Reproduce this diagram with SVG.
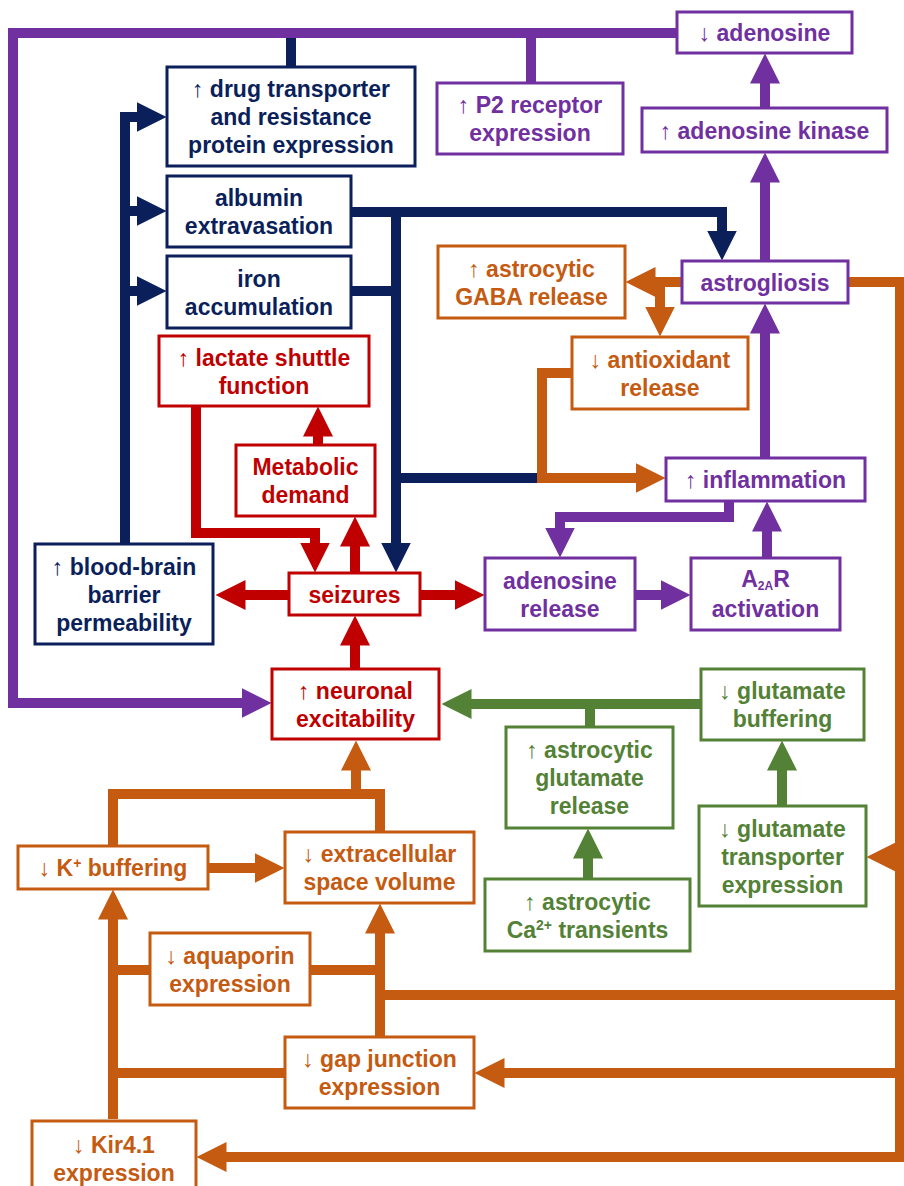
<svg xmlns="http://www.w3.org/2000/svg" width="904" height="1186" viewBox="0 0 904 1186">
<style>
.bx{fill:#fff;stroke-width:3}
.t{font-family:"Liberation Sans",Arial,sans-serif;font-weight:bold;font-size:23px;text-anchor:middle}
.ar{font-weight:normal}
.c{fill:none;stroke-width:10;stroke-linejoin:miter;stroke-linecap:butt}
.navy{stroke:#0b1f5b}.purple{stroke:#7030a0}.red{stroke:#c00000}.orange{stroke:#c55a11}.green{stroke:#538135}
.tn{fill:#0b1f5b}.tp{fill:#7030a0}.tr{fill:#c00000}.to{fill:#c55a11}.tg{fill:#538135}
.sup{font-size:14px}
.sub{font-size:12px}
</style>
<defs>
<marker id="an" markerWidth="30" markerHeight="30" refX="0.5" refY="15" orient="auto" markerUnits="userSpaceOnUse" viewBox="0 0 30 30"><path d="M0,0 L30,15 L0,30z" fill="#0b1f5b"/></marker>
<marker id="ap" markerWidth="30" markerHeight="30" refX="0.5" refY="15" orient="auto" markerUnits="userSpaceOnUse" viewBox="0 0 30 30"><path d="M0,0 L30,15 L0,30z" fill="#7030a0"/></marker>
<marker id="ar" markerWidth="30" markerHeight="30" refX="0.5" refY="15" orient="auto" markerUnits="userSpaceOnUse" viewBox="0 0 30 30"><path d="M0,0 L30,15 L0,30z" fill="#c00000"/></marker>
<marker id="ao" markerWidth="30" markerHeight="30" refX="0.5" refY="15" orient="auto" markerUnits="userSpaceOnUse" viewBox="0 0 30 30"><path d="M0,0 L30,15 L0,30z" fill="#c55a11"/></marker>
<marker id="ag" markerWidth="30" markerHeight="30" refX="0.5" refY="15" orient="auto" markerUnits="userSpaceOnUse" viewBox="0 0 30 30"><path d="M0,0 L30,15 L0,30z" fill="#538135"/></marker>
</defs>
<rect width="904" height="1186" fill="#fff"/>
<g id="connectors">
<!-- navy -->
<path class="c navy" d="M125,544 V117 H137" marker-end="url(#an)"/>
<path class="c navy" d="M125,211 H137" marker-end="url(#an)"/>
<path class="c navy" d="M125,291 H137" marker-end="url(#an)"/>
<path class="c navy" d="M291,67 V36"/>
<path class="c navy" d="M351,212 H722 V231" marker-end="url(#an)"/>
<path class="c navy" d="M396,207 V543" marker-end="url(#an)"/>
<path class="c navy" d="M351,291 H396"/>
<path class="c navy" d="M396,478 H542"/>
<!-- purple -->
<path class="c purple" d="M677,33 H13 V703 H242" marker-end="url(#ap)"/>
<path class="c purple" d="M531,33 V83"/>
<path class="c purple" d="M729,501 V517 H560 V528" marker-end="url(#ap)"/>
<path class="c purple" d="M635,595 H661" marker-end="url(#ap)"/>
<path class="c purple" d="M767,558 V531" marker-end="url(#ap)"/>
<path class="c purple" d="M765,458 V333" marker-end="url(#ap)"/>
<path class="c purple" d="M765,261 V182" marker-end="url(#ap)"/>
<path class="c purple" d="M765,108 V83" marker-end="url(#ap)"/>
<!-- orange -->
<path class="c orange" d="M572,373 H542 V478 H636" marker-end="url(#ao)"/>
<path class="c orange" d="M682,282 H655" marker-end="url(#ao)"/>
<path class="c orange" d="M660,282 V307" marker-end="url(#ao)"/>
<path class="c orange" d="M848,282 H900 V1157 H226" marker-end="url(#ao)"/>
<path class="c orange" d="M900,857 H896" marker-end="url(#ao)"/>
<path class="c orange" d="M900,995 H380"/>
<path class="c orange" d="M900,1073 H504" marker-end="url(#ao)"/>
<path class="c orange" d="M380,1037 V933" marker-end="url(#ao)"/>
<path class="c orange" d="M113,970 H150"/>
<path class="c orange" d="M310,970 H380"/>
<path class="c orange" d="M113,1119 V919" marker-end="url(#ao)"/>
<path class="c orange" d="M113,1073 H285"/>
<path class="c orange" d="M113,846 V794 H380 V832"/>
<path class="c orange" d="M356,794 V770" marker-end="url(#ao)"/>
<path class="c orange" d="M208,868 H255" marker-end="url(#ao)"/>
<!-- green -->
<path class="c green" d="M701,704 H471" marker-end="url(#ag)"/>
<path class="c green" d="M590,704 V727"/>
<path class="c green" d="M588,879 V858" marker-end="url(#ag)"/>
<path class="c green" d="M782,806 V770" marker-end="url(#ag)"/>
<!-- red -->
<path class="c red" d="M289,595 H245" marker-end="url(#ar)"/>
<path class="c red" d="M420,595 H455" marker-end="url(#ar)"/>
<path class="c red" d="M355,573 V546" marker-end="url(#ar)"/>
<path class="c red" d="M196,406 V533 H315 V543" marker-end="url(#ar)"/>
<path class="c red" d="M318,445 V436" marker-end="url(#ar)"/>
<path class="c red" d="M355,669 V645" marker-end="url(#ar)"/>
</g>

<g id="drug-transporter"><rect class="bx navy" x="167" y="67" width="248" height="99"/><text class="t tn" x="291" y="97"><tspan class="ar">↑</tspan> drug transporter<tspan x="291" dy="28">and resistance</tspan><tspan x="291" dy="28">protein expression</tspan></text></g>
<g id="albumin"><rect class="bx navy" x="167" y="176" width="184" height="71"/><text class="t tn" x="259" y="206">albumin<tspan x="259" dy="28">extravasation</tspan></text></g>
<g id="iron"><rect class="bx navy" x="167" y="256" width="184" height="72"/><text class="t tn" x="259" y="286.5">iron<tspan x="259" dy="28">accumulation</tspan></text></g>
<g id="bbb"><rect class="bx navy" x="35" y="544" width="178" height="100"/><text class="t tn" x="124" y="574.5"><tspan class="ar">↑</tspan> blood-brain<tspan x="124" dy="28">barrier</tspan><tspan x="124" dy="28">permeability</tspan></text></g>

<g id="lactate"><rect class="bx red" x="159" y="336" width="210" height="70"/><text class="t tr" x="264" y="365.5"><tspan class="ar">↑</tspan> lactate shuttle<tspan x="264" dy="28">function</tspan></text></g>
<g id="metabolic"><rect class="bx red" x="236" y="445" width="139" height="71"/><text class="t tr" x="305.5" y="475">Metabolic<tspan x="305.5" dy="28">demand</tspan></text></g>
<g id="seizures"><rect class="bx red" x="289" y="573" width="131" height="42"/><text class="t tr" x="354.5" y="602.5">seizures</text></g>
<g id="neuronal"><rect class="bx red" x="272" y="669" width="167" height="70"/><text class="t tr" x="355.5" y="698.5"><tspan class="ar">↑</tspan> neuronal<tspan x="355.5" dy="28">excitability</tspan></text></g>

<g id="adenosine-down"><rect class="bx purple" x="677" y="12" width="175" height="41"/><text class="t tp" x="764.5" y="41"><tspan class="ar">↓</tspan> adenosine</text></g>
<g id="p2"><rect class="bx purple" x="437" y="83" width="186" height="71"/><text class="t tp" x="530" y="113"><tspan class="ar">↑</tspan> P2 receptor<tspan x="530" dy="28">expression</tspan></text></g>
<g id="kinase"><rect class="bx purple" x="642" y="108" width="245" height="44"/><text class="t tp" x="764.5" y="138.5"><tspan class="ar">↑</tspan> adenosine kinase</text></g>
<g id="astrogliosis"><rect class="bx purple" x="682" y="261" width="166" height="42"/><text class="t tp" x="765" y="290.5">astrogliosis</text></g>
<g id="inflammation"><rect class="bx purple" x="666" y="458" width="199" height="43"/><text class="t tp" x="765.5" y="488"><tspan class="ar">↑</tspan> inflammation</text></g>
<g id="adenosine-release"><rect class="bx purple" x="485" y="558" width="150" height="72"/><text class="t tp" x="560" y="588.5">adenosine<tspan x="560" dy="28">release</tspan></text></g>
<g id="a2ar"><rect class="bx purple" x="691" y="558" width="149" height="72"/><text class="t tp" x="765.5" y="587">A<tspan class="sub" dy="3">2A</tspan><tspan dy="-3">R</tspan></text><text class="t tp" x="765.5" y="617">activation</text></g>

<g id="gaba"><rect class="bx orange" x="438" y="246" width="187" height="72"/><text class="t to" x="531.5" y="276.5"><tspan class="ar">↑</tspan> astrocytic<tspan x="531.5" dy="28">GABA release</tspan></text></g>
<g id="antioxidant"><rect class="bx orange" x="572" y="337" width="176" height="72"/><text class="t to" x="660" y="367.5"><tspan class="ar">↓</tspan> antioxidant<tspan x="660" dy="28">release</tspan></text></g>
<g id="k-buffering"><rect class="bx orange" x="18" y="846" width="190" height="43"/><text class="t to" x="113" y="876"><tspan class="ar">↓</tspan> K<tspan class="sup" baseline-shift="super">+</tspan> buffering</text></g>
<g id="ecs-volume"><rect class="bx orange" x="285" y="832" width="189" height="71"/><text class="t to" x="379.5" y="862"><tspan class="ar">↓</tspan> extracellular<tspan x="379.5" dy="28">space volume</tspan></text></g>
<g id="aquaporin"><rect class="bx orange" x="150" y="933" width="160" height="72"/><text class="t to" x="230" y="963.5"><tspan class="ar">↓</tspan> aquaporin<tspan x="230" dy="28">expression</tspan></text></g>
<g id="gap-junction"><rect class="bx orange" x="285" y="1037" width="189" height="71"/><text class="t to" x="379.5" y="1067"><tspan class="ar">↓</tspan> gap junction<tspan x="379.5" dy="28">expression</tspan></text></g>
<g id="kir41"><rect class="bx orange" x="32" y="1121" width="164" height="75"/><text class="t to" x="114" y="1152.5"><tspan class="ar">↓</tspan> Kir4.1<tspan x="114" dy="28">expression</tspan></text></g>

<g id="glu-buffering"><rect class="bx green" x="701" y="669" width="163" height="71"/><text class="t tg" x="782.5" y="699"><tspan class="ar">↓</tspan> glutamate<tspan x="782.5" dy="28">buffering</tspan></text></g>
<g id="glu-release"><rect class="bx green" x="506" y="727" width="167" height="101"/><text class="t tg" x="589.5" y="758"><tspan class="ar">↑</tspan> astrocytic<tspan x="589.5" dy="28">glutamate</tspan><tspan x="589.5" dy="28">release</tspan></text></g>
<g id="ca-transients"><rect class="bx green" x="485" y="879" width="205" height="72"/><text class="t tg" x="587.5" y="909.5"><tspan class="ar">↑</tspan> astrocytic<tspan x="587.5" dy="28">Ca</tspan><tspan class="sup" baseline-shift="super">2+</tspan> transients</text></g>
<g id="glu-transporter"><rect class="bx green" x="699" y="806" width="167" height="100"/><text class="t tg" x="782.5" y="836.5"><tspan class="ar">↓</tspan> glutamate<tspan x="782.5" dy="28">transporter</tspan><tspan x="782.5" dy="28">expression</tspan></text></g>
</svg>
